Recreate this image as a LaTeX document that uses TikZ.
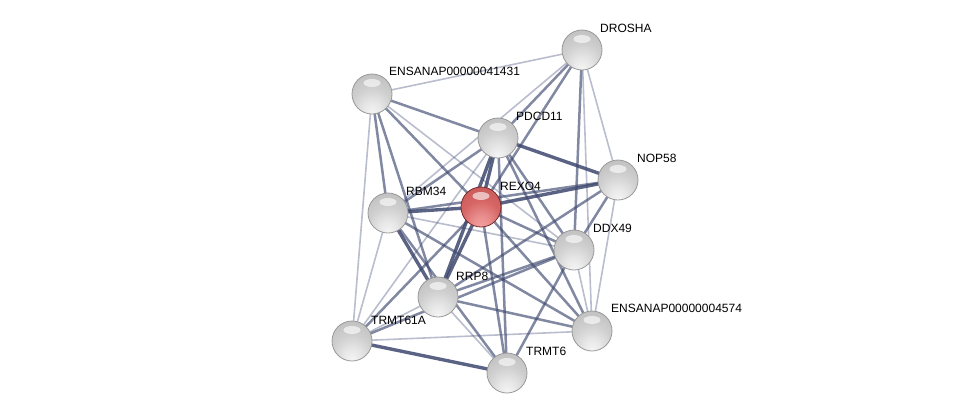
\documentclass[tikz,border=0pt]{standalone}
\usepackage{fontspec}
\setmainfont{Liberation Sans}
\definecolor{rmid}{RGB}{214,100,100}
\definecolor{rlight}{RGB}{242,160,160}
\definecolor{rdark}{RGB}{150,55,55}
\pgfdeclareradialshading{grayball}{\pgfpoint{0bp}{-24bp}}{color(0bp)=(gray!8); color(10bp)=(gray!18); color(25bp)=(gray!38); color(40bp)=(gray!50); color(55bp)=(gray!62); color(80bp)=(gray!70)}
\pgfdeclareradialshading{redball}{\pgfpoint{0bp}{-24bp}}{color(0bp)=(rlight); color(10bp)=(rlight!70!rmid); color(25bp)=(rmid); color(40bp)=(rmid!80!rdark); color(55bp)=(rdark); color(80bp)=(rdark!80!black)}
\begin{document}
\begin{tikzpicture}[x=1pt,y=-1pt,
  ball/.style={circle,minimum size=40pt,inner sep=0pt,shading=grayball,draw=gray!80,line width=0.8pt,
    path picture={\fill[white,opacity=0.6] ([yshift=11pt]path picture bounding box.center) ellipse (8.5pt and 4pt);}},
  redb/.style={ball,shading=redball,draw=rdark!80!black},
  lab/.style={anchor=west,font=\fontsize{12}{14}\selectfont,inner sep=0pt},
  et/.style={line width=3.4pt,draw={rgb,255:red,62;green,72;blue,110},draw opacity=0.85},
  em/.style={line width=2.5pt,draw={rgb,255:red,62;green,72;blue,110},draw opacity=0.65},
  el/.style={line width=1.6pt,draw={rgb,255:red,80;green,90;blue,130},draw opacity=0.4}]
\useasboundingbox (0,0) rectangle (976,418);
\coordinate (D) at (582,50);
\coordinate (E1) at (372,94);
\coordinate (P) at (498,138);
\coordinate (N) at (618,180);
\coordinate (R) at (481,207);
\coordinate (B) at (388,213);
\coordinate (X) at (574,250);
\coordinate (S) at (438,297);
\coordinate (E2) at (592,331);
\coordinate (T61) at (352,341);
\coordinate (T6) at (507,373);
% light edges
\draw[el] (D) -- (E1);
\draw[el] (D) -- (B);
\draw[el] (D) -- (N);
\draw[el] (D) -- (E2);
\draw[el] (E1) -- (T61);
\draw[el] (E1) -- (X);
\draw[el] (P) -- (T61);
\draw[el] (N) -- (E2);
\draw[el] (X) -- (E2);
\draw[el] (X) -- (B);
\draw[el] (S) -- (T61);
\draw[el] (S) -- (T6);
\draw[el] (B) -- (T61);
\draw[el] (T61) -- (E2);
% medium edges
\draw[em] (D) -- (P);
\draw[em] (D) -- (R);
\draw[em] (D) -- (X);
\draw[em] (E1) -- (P);
\draw[em] (E1) -- (R);
\draw[em] (E1) -- (B);
\draw[em] (E1) -- (S);
\draw[em] (P) -- (B);
\draw[em] (P) -- (X);
\draw[em] (P) -- (E2);
\draw[em] (P) -- (T6);
\draw[em] (R) -- (X);
\draw[em] (R) -- (T6);
\draw[em] (R) -- (E2);
\draw[em] (R) -- (T61);
\draw[em] (N) -- (X);
\draw[em] (N) -- (S);
\draw[em] (N) -- (B);
\draw[em] (X) -- (S);
\draw[em] (X) -- (T6);
\draw[em] (X) -- (T61);
\draw[em] (S) -- (E2);
\draw[em] (B) -- (T6);
\draw[em] (B) -- (E2);
% thick edges
\draw[et] (P) -- (N);
\draw[et] (P) -- (R);
\draw[et] (P) -- (S);
\draw[et] (R) -- (N);
\draw[et] (R) -- (B);
\draw[et] (R) -- (S);
\draw[et] (S) -- (B);
\draw[et] (T61) -- (T6);
% nodes
\node[ball] (nD) at (D) {};
\node[ball] (nE1) at (E1) {};
\node[ball] (nP) at (P) {};
\node[ball] (nN) at (N) {};
\node[redb] (nR) at (R) {};
\node[ball] (nB) at (B) {};
\node[ball] (nX) at (X) {};
\node[ball] (nS) at (S) {};
\node[ball] (nE2) at (E2) {};
\node[ball] (nT61) at (T61) {};
\node[ball] (nT6) at (T6) {};
% labels
\node[lab] (lD) at (600,28) {DROSHA};
\node[lab] (lE1) at (389,71) {ENSANAP00000041431};
\node[lab] (lP) at (516,116) {PDCD11};
\node[lab] (lN) at (637,158) {NOP58};
\node[lab] (lR) at (500,186) {REXO4};
\node[lab] (lB) at (406,191) {RBM34};
\node[lab] (lX) at (593,228) {DDX49};
\node[lab] (lS) at (456,276) {RRP8};
\node[lab] (lE2) at (611,308) {ENSANAP00000004574};
\node[lab] (lT61) at (371,320) {TRMT61A};
\node[lab] (lT6) at (526,351) {TRMT6};
\end{tikzpicture}
\end{document}
